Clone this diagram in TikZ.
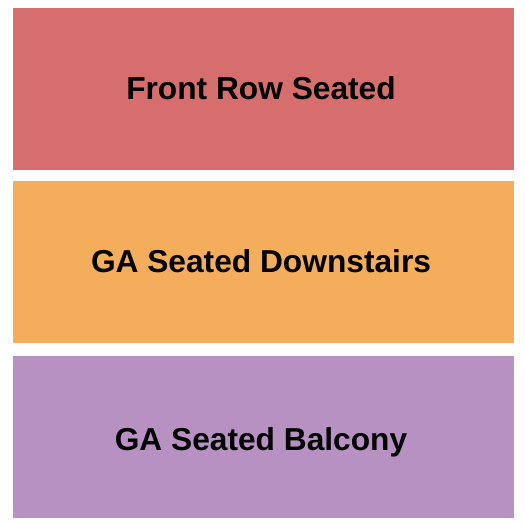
\documentclass[tikz,border=0pt]{standalone}
\usepackage{fontspec}
\setmainfont{Liberation Sans}
\definecolor{cred}{HTML}{D76E6E}
\definecolor{corange}{HTML}{F4AE5B}
\definecolor{cpurple}{HTML}{B891C3}
\begin{document}
\begin{tikzpicture}[x=1pt,y=-1pt,
  section/.style={inner sep=0pt,font=\fontsize{31.7}{38}\selectfont\bfseries,text=black}]
\useasboundingbox[fill=white] (0,0) rectangle (525,525);
\fill[cred] (13,8) rectangle (514,170);
\fill[corange] (13,181) rectangle (514,343);
\fill[cpurple] (13,356) rectangle (514,518);
\node[section] (front) at (261,88) {Front Row Seated};
\node[section] (down) at (261,261) {GA Seated Downstairs};
\node[section] (balc) at (261,442) {GA Seated Balcony};
\end{tikzpicture}
\end{document}
